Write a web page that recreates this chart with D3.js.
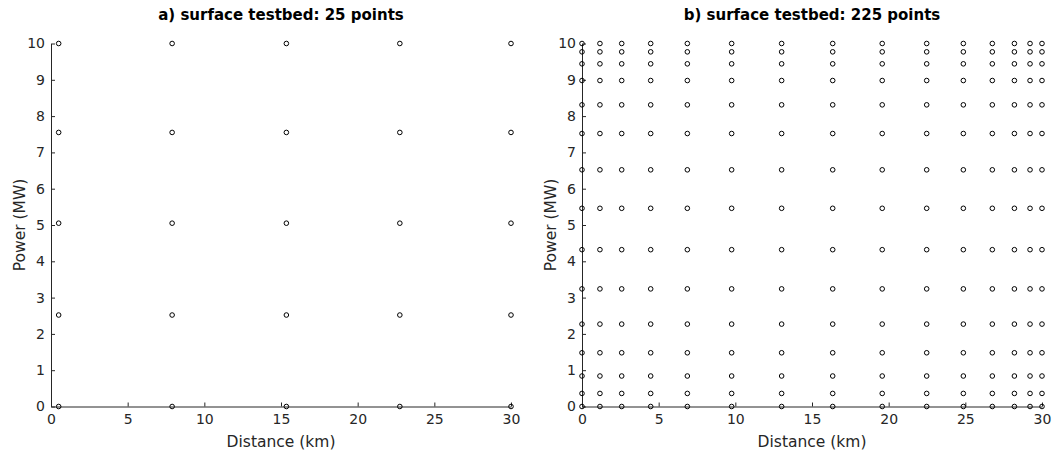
<!DOCTYPE html>
<html>
<head>
<meta charset="utf-8">
<script src="https://cdn.jsdelivr.net/npm/d3@7"></script>
<style>
body{margin:0;background:#fff;}
text{font-family:"DejaVu Sans",Verdana,sans-serif;}
</style>
</head>
<body>
<div class="canvas"></div>
<script>
const width=1054, height=455;

// a) 25 points: 5 x 5 grid
const distA=[0.5,7.9,15.35,22.75,30];
const powerA=[0,2.52,5.05,7.55,10];
// b) 225 points: 15 x 15 grid
const distB=[0,1.17,2.59,4.48,6.87,9.76,13.02,16.35,19.58,22.48,24.87,26.76,28.2,29.22,30];
const powerB=[0,0.36,0.84,1.48,2.27,3.24,4.32,5.46,6.52,7.52,8.31,8.98,9.44,9.77,10];

const xTicks=[0,5,10,15,20,25,30];
const yTicks=[0,1,2,3,4,5,6,7,8,9,10];

const titles=["a) surface testbed: 25 points","b) surface testbed: 225 points"];

const svg=d3.select(".canvas").append("svg")
  .attr("width",width).attr("height",height);

const panels=[
  {left:51, dist:distA, power:powerA, title:titles[0]},
  {left:582, dist:distB, power:powerB, title:titles[1]}
];
const plotTop=43.5, plotBottom=406.5, plotW=460;

panels.forEach(p=>{
  const x=d3.scaleLinear().domain([0,30]).range([p.left,p.left+plotW]);
  const y=d3.scaleLinear().domain([0,10]).range([plotBottom,plotTop]);
  const g=svg.append("g");

  const xAxis=d3.axisBottom(x).tickValues(xTicks).tickSizeInner(-4).tickSizeOuter(0).tickPadding(8);
  const yAxis=d3.axisLeft(y).tickValues(yTicks).tickSizeInner(-4).tickSizeOuter(0).tickPadding(6);

  const gx=g.append("g").attr("transform",`translate(0,${plotBottom})`).call(xAxis);
  const gy=g.append("g").attr("transform",`translate(${p.left},0)`).call(yAxis);
  [gx,gy].forEach(a=>{
    a.select(".domain").attr("stroke","#262626");
    a.selectAll(".tick line").attr("stroke","#262626");
    a.selectAll(".tick text").attr("fill","#262626").style("font-size","14px")
      .style("font-family","'DejaVu Sans',Verdana,sans-serif");
  });

  const pts=[];
  p.dist.forEach(d=>p.power.forEach(w=>pts.push([d,w])));
  g.selectAll("circle").data(pts).enter().append("circle")
    .attr("cx",d=>x(d[0])).attr("cy",d=>y(d[1]))
    .attr("r",2.3).attr("fill","none").attr("stroke","#000").attr("stroke-width",1);

  g.append("text").attr("x",p.left+plotW/2).attr("y",20)
    .attr("text-anchor","middle").style("font-size","15px").style("font-weight","bold")
    .attr("fill","#000").text(p.title);

  g.append("text").attr("x",p.left+plotW/2).attr("y",447)
    .attr("text-anchor","middle").style("font-size","15.5px").attr("fill","#262626")
    .text("Distance (km)");

  g.append("text").attr("transform",`translate(${p.left-26},${(plotTop+plotBottom)/2}) rotate(-90)`)
    .attr("text-anchor","middle").style("font-size","15.5px").attr("fill","#262626")
    .text("Power (MW)");
});
</script>
</body>
</html>
